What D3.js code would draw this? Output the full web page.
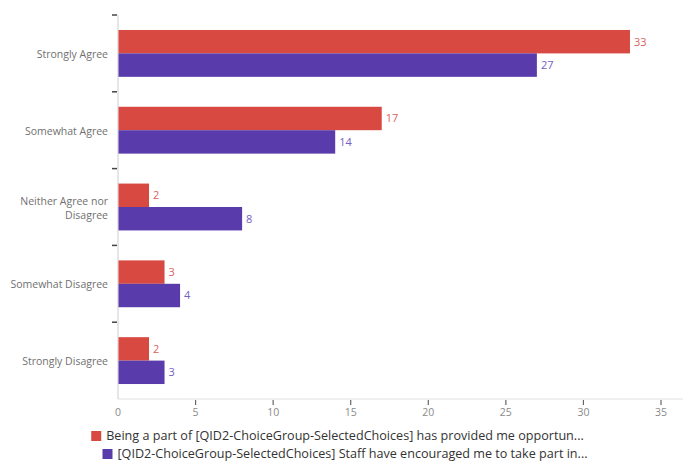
<!DOCTYPE html>
<html>
<head>
<meta charset="utf-8">
<script src="https://cdn.jsdelivr.net/npm/d3@7"></script>
<style>
  html, body { margin: 0; padding: 0; background: #fff; }
  svg { display: block; font-family: "Open Sans", "Noto Sans", sans-serif; }
</style>
</head>
<body>
<svg id="chart" width="685" height="461"></svg>
<script>
// Response categories, top to bottom
const categories = [
  "Strongly Agree",
  "Somewhat Agree",
  "Neither Agree nor Disagree",
  "Somewhat Disagree",
  "Strongly Disagree"
];
const categoryLines = [
  ["Strongly Agree"],
  ["Somewhat Agree"],
  ["Neither Agree nor", "Disagree"],
  ["Somewhat Disagree"],
  ["Strongly Disagree"]
];
// Counts per statement
const opportunityCounts = [33, 17, 2, 3, 2];
const encouragedCounts = [27, 14, 8, 4, 3];
const seriesNames = [
  "Being a part of [QID2-ChoiceGroup-SelectedChoices] has provided me opportun...",
  "[QID2-ChoiceGroup-SelectedChoices] Staff have encouraged me to take part in..."
];
const xTicks = [0, 5, 10, 15, 20, 25, 30, 35];

const barColors = ["#d84a41", "#5a3bab"];
const labelColors = ["#e0625a", "#7560c4"];

const series = [opportunityCounts, encouragedCounts];

const svg = d3.select("#chart");
const plotLeft = 118, plotRight = 661, plotTop = 15, plotBottom = 399;

const x = d3.scaleLinear().domain([0, 35]).range([plotLeft, plotRight]);
const y = d3.scaleBand().domain(categories).range([plotTop, plotBottom]);
const step = y.bandwidth();
const barH = step * 0.305;
const barOffset = step * 0.195;

// Axis lines
svg.append("line")
  .attr("x1", plotLeft).attr("x2", 683).attr("y1", plotBottom).attr("y2", plotBottom)
  .attr("stroke", "#e2e2e2").attr("stroke-width", 1.2);
svg.append("line")
  .attr("x1", plotLeft).attr("x2", plotLeft).attr("y1", plotTop).attr("y2", plotBottom)
  .attr("stroke", "#d6d6d6").attr("stroke-width", 1.2);

// Category separators on the left axis
svg.append("g").selectAll("line")
  .data(categories)
  .join("line")
  .attr("x1", plotLeft - 6).attr("x2", plotLeft - 1)
  .attr("y1", d => y(d)).attr("y2", d => y(d))
  .attr("stroke", "#444").attr("stroke-width", 1.5);

// Bottom axis ticks and labels
const xAxis = svg.append("g");
xAxis.selectAll("line")
  .data(xTicks.filter(t => t > 0))
  .join("line")
  .attr("x1", d => x(d)).attr("x2", d => x(d))
  .attr("y1", plotBottom + 1).attr("y2", plotBottom + 6)
  .attr("stroke", "#666").attr("stroke-width", 1.2);
xAxis.selectAll("text")
  .data(xTicks)
  .join("text")
  .attr("x", d => x(d))
  .attr("y", plotBottom + 17)
  .attr("text-anchor", "middle")
  .attr("font-size", 10.5)
  .attr("fill", "#8a8a8a")
  .text(d => d);

// Category labels
const catG = svg.append("g");
categories.forEach((c, i) => {
  const lines = categoryLines[i];
  const cy = y(c) + step / 2 + 1;
  const lh = 14;
  const t = catG.append("text")
    .attr("x", 108)
    .attr("text-anchor", "end")
    .attr("font-size", 10.5)
    .attr("fill", "#707070");
  lines.forEach((ln, j) => {
    t.append("tspan")
      .attr("x", 108)
      .attr("y", cy + (j - (lines.length - 1) / 2) * lh)
      .attr("dy", "0.35em")
      .text(ln);
  });
});

// Bars and value labels
series.forEach((vals, s) => {
  const g = svg.append("g");
  g.selectAll("rect")
    .data(vals)
    .join("rect")
    .attr("x", x(0) + 0.5)
    .attr("y", (d, i) => y(categories[i]) + barOffset + s * barH)
    .attr("width", d => x(d) - x(0) - 0.5)
    .attr("height", barH)
    .attr("fill", barColors[s]);
  g.selectAll("text")
    .data(vals)
    .join("text")
    .attr("x", d => x(d) + 4)
    .attr("y", (d, i) => y(categories[i]) + barOffset + s * barH + barH / 2)
    .attr("dy", "0.35em")
    .attr("font-size", 11)
    .attr("fill", labelColors[s])
    .text(d => d);
});

// Legend, each row centred
const legend = svg.append("g");
seriesNames.forEach((name, s) => {
  const row = legend.append("g");
  const cy = 436 + s * 18;
  const txt = row.append("text")
    .attr("x", 15)
    .attr("y", cy)
    .attr("dy", "0.35em")
    .attr("font-size", 12.6)
    .attr("fill", "#333")
    .text(name);
  row.append("rect")
    .attr("x", 0).attr("y", cy - 5)
    .attr("width", 10).attr("height", 10)
    .attr("fill", barColors[s]);
  const w = 15 + txt.node().getComputedTextLength();
  const cx = s === 0 ? 337.5 : 345;
  row.attr("transform", `translate(${cx - w / 2},0)`);
});
</script>
</body>
</html>
